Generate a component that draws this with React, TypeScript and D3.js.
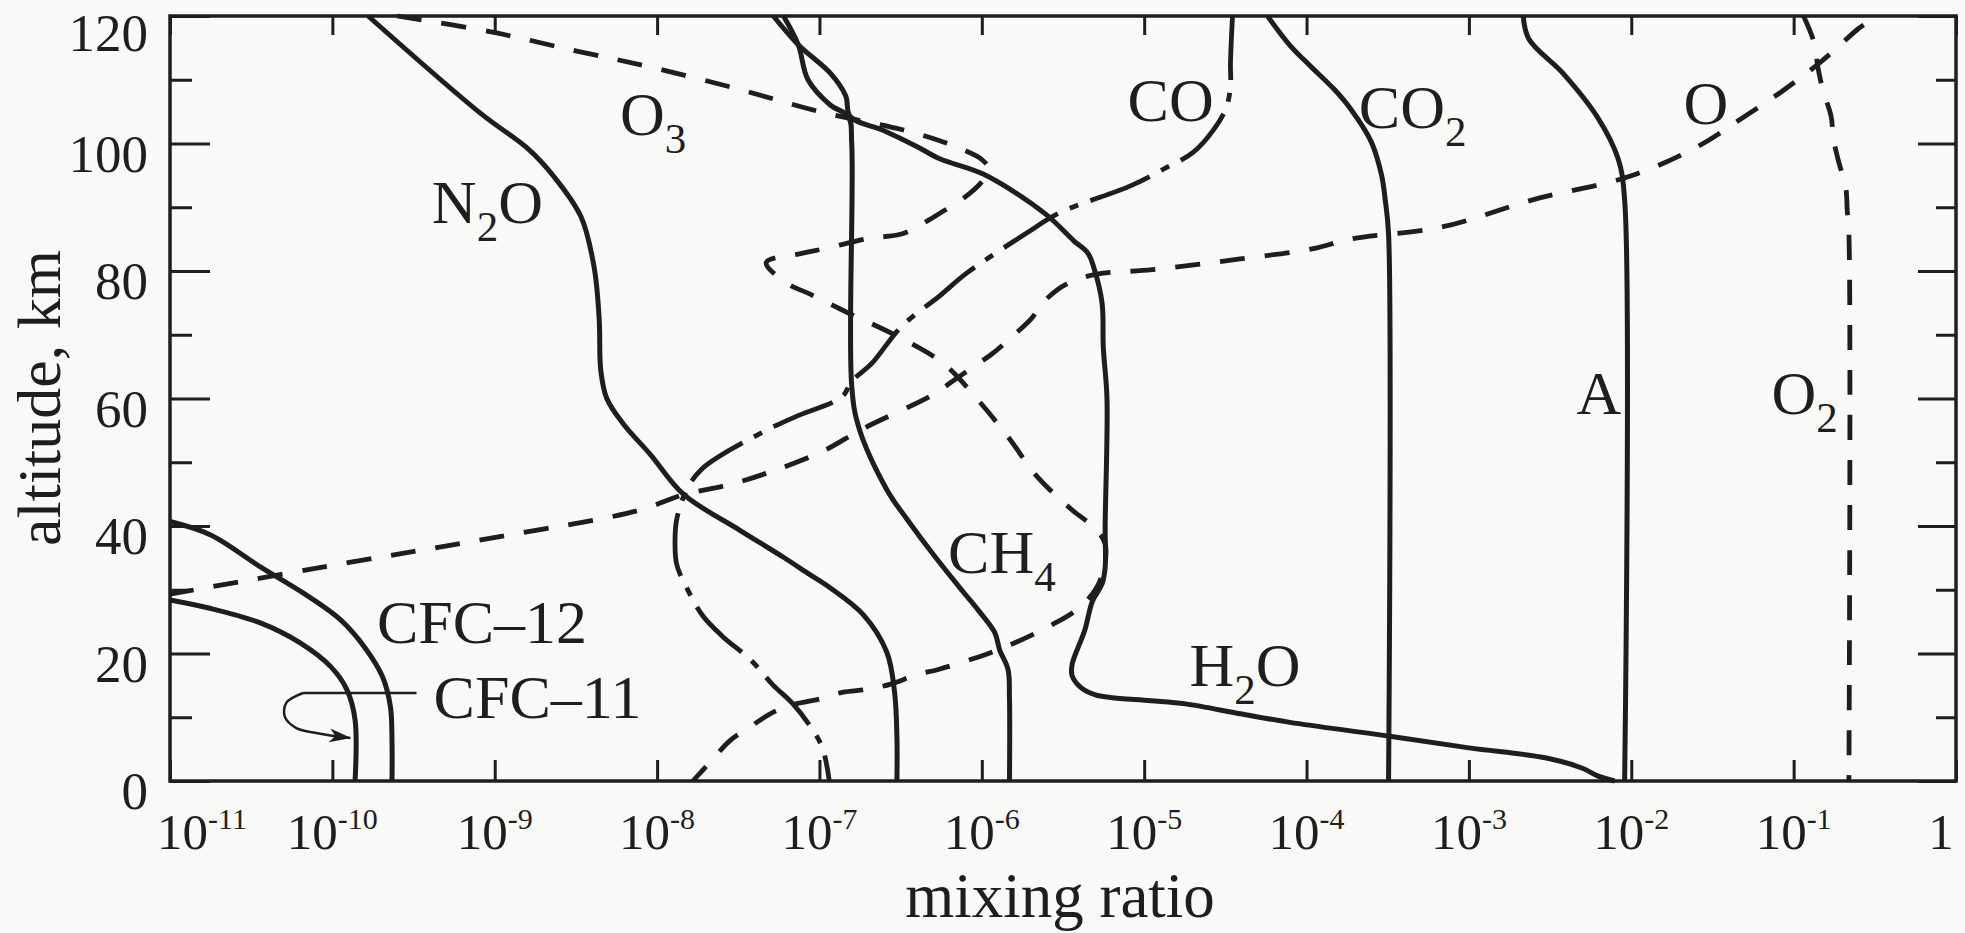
import { useEffect, useRef } from 'react';
import * as d3 from 'd3';

// [altitude km, mixing ratio]
type Pt = [number, number];

const CFC11: Pt[] = [
  [28.4, 1.0e-11], [27.1, 1.76e-11], [24.8, 3.6e-11], [21.7, 6.3e-11], [17.9, 9.8e-11],
  [14.3, 1.23e-10], [9.6, 1.38e-10], [0, 1.38e-10],
];

const CFC12: Pt[] = [
  [40.7, 1.0e-11], [38.6, 1.78e-11], [33.6, 3.6e-11], [29.5, 6.6e-11], [25.3, 1.12e-10],
  [20.6, 1.62e-10], [16.3, 2.04e-10], [11.6, 2.28e-10], [6, 2.33e-10], [0, 2.33e-10],
];

const N2O: Pt[] = [
  [120, 1.66e-10], [104.6, 8.3e-10], [99.2, 1.6e-9], [94.9, 2.3e-9], [88.5, 3.4e-9],
  [80.5, 4.1e-9], [72.4, 4.4e-9], [64.4, 4.5e-9], [60, 4.9e-9], [56, 6.2e-9],
  [51.2, 9.1e-9], [45, 1.45e-8], [39.4, 3.2e-8], [35.1, 6.0e-8], [32.4, 8.7e-8],
  [30.4, 1.15e-7], [26.1, 1.86e-7], [20.2, 2.6e-7], [14, 2.9e-7], [7, 3.0e-7], [0, 3.0e-7],
];

const CH4: Pt[] = [
  [120, 6.0e-8], [115.5, 7.4e-8], [110, 8.5e-8], [106, 1.17e-7], [104.2, 1.51e-7],
  [100, 1.58e-7], [62, 1.58e-7], [55.6, 1.74e-7], [45.7, 2.6e-7], [40.9, 3.5e-7],
  [35.6, 5.0e-7], [29.8, 7.6e-7], [26.8, 9.5e-7], [23.3, 1.2e-6], [20.5, 1.29e-6],
  [17.5, 1.45e-6], [13, 1.48e-6], [0, 1.48e-6],
];

const H2O: Pt[] = [
  [120, 5.2e-8], [115.5, 7.4e-8], [111, 1.17e-7], [107.5, 1.45e-7], [104.2, 1.55e-7],
  [102, 2.5e-7], [99.5, 4.0e-7], [97.6, 5.5e-7], [95.2, 1.02e-6], [89, 2.45e-6],
  [84.7, 3.7e-6], [82.8, 4.5e-6], [80.5, 4.9e-6], [75, 5.5e-6], [68, 5.6e-6],
  [60, 5.9e-6], [40, 5.75e-6], [33.5, 5.75e-6], [30.9, 5.5e-6], [28.2, 4.8e-6],
  [23.6, 4.3e-6], [18.3, 3.6e-6], [16.5, 3.6e-6], [14.6, 4.1e-6], [13.5, 5.0e-6],
  [13.1, 6.2e-6], [12.6, 1.1e-5], [12.1, 1.8e-5], [10.5, 4.0e-5], [9.2, 7.9e-5],
  [7.2, 2.9e-4], [5.2, 1.0e-3], [3.6, 3.0e-3], [2, 5.0e-3], [0.8, 6.2e-3], [0, 7.9e-3],
];

const CO: Pt[] = [
  [120, 3.5e-5], [112.6, 3.4e-5], [109, 3.4e-5], [105.6, 3.2e-5], [102.3, 2.7e-5],
  [98.6, 2.0e-5], [96, 1.32e-5], [93.4, 8.3e-6], [89.1, 3.0e-6], [86, 1.9e-6],
  [79.7, 8.1e-7], [76.1, 5.5e-7], [71.3, 3.2e-7], [65.5, 2.1e-7], [62.7, 1.58e-7],
  [60.3, 1.38e-7], [57.2, 7.2e-8], [54.5, 4.3e-8], [48.8, 1.86e-8], [45, 1.48e-8],
  [41, 1.32e-8], [38, 1.29e-8], [34, 1.32e-8], [29.9, 1.55e-8], [26, 1.9e-8],
  [22.8, 2.5e-8], [18.9, 3.8e-8], [15, 5.2e-8], [12.2, 6.8e-8], [8, 9.1e-8],
  [5, 1.05e-7], [0, 1.15e-7],
];

const O3: Pt[] = [
  [120, 2.5e-10], [117.5, 9.5e-10], [114.5, 3.2e-9], [112, 9.1e-9], [108.5, 3.2e-8],
  [105, 1.0e-7], [102.2, 3.2e-7], [100.5, 5.4e-7], [99.2, 7.4e-7], [97.5, 1.0e-6],
  [96, 1.1e-6], [94, 1.0e-6], [91.5, 7.8e-7], [89.4, 5.8e-7], [87.4, 4.3e-7],
  [85.8, 3.2e-7], [85.1, 2.0e-7], [83.6, 1.12e-7], [82.8, 7.9e-8], [81.3, 4.7e-8],
  [78.1, 6.3e-8], [76.4, 8.7e-8], [73.4, 1.51e-7], [69.8, 3.0e-7], [65.5, 5.8e-7],
  [60, 9.3e-7], [54, 1.45e-6], [47.7, 2.2e-6], [42.5, 3.6e-6], [39.8, 4.9e-6],
  [37.2, 5.75e-6], [33, 5.6e-6], [30, 5.0e-6], [27, 3.9e-6], [24.6, 2.75e-6],
  [21.2, 1.45e-6], [19.9, 1.07e-6], [17.5, 5.4e-7], [16.7, 4.0e-7], [15.2, 2.75e-7],
  [14.4, 2.0e-7], [13.9, 1.38e-7], [12.8, 9.8e-8], [12, 6.9e-8], [10.7, 5.1e-8],
  [8.6, 3.8e-8], [6.3, 2.8e-8], [3.4, 2.2e-8], [0, 1.66e-8],
];

const O_ATOM: Pt[] = [
  [118.6, 0.27], [118, 0.25], [112.8, 0.147], [108.2, 8.5e-2], [103.8, 4.7e-2],
  [99.6, 2.6e-2], [94.9, 9.9e-3], [91.2, 2.5e-3], [86.9, 6.8e-4], [85, 1.86e-4],
  [83.5, 1.1e-4], [81.9, 3.9e-5], [80.2, 1.12e-5], [79.5, 5.1e-6], [78.1, 3.4e-6],
  [75.6, 2.5e-6], [72.4, 2.0e-6], [69.8, 1.55e-6], [67.1, 1.17e-6], [65, 8.9e-7],
  [62.7, 6.6e-7], [60.6, 5.0e-7], [55.1, 1.8e-7], [52, 1.1e-7], [48.8, 5.4e-8],
  [46.5, 2.8e-8], [44.9, 1.45e-8], [42.4, 7.6e-9], [38.1, 9.5e-10], [34, 1.1e-10],
  [29.3, 1.0e-11],
];

const O2: Pt[] = [
  [120, 0.115], [116, 0.133], [112, 0.141], [108.5, 0.151], [104.3, 0.17],
  [100.7, 0.176], [97, 0.19], [93.3, 0.209], [89.4, 0.214], [86, 0.219], [0, 0.219],
];

const AR: Pt[] = [
  [120, 2.16e-3], [116.4, 2.34e-3], [111, 3.8e-3], [104.1, 6.2e-3], [97.6, 8.3e-3],
  [91.2, 9.1e-3], [0, 9.1e-3],
];

const CO2: Pt[] = [
  [120, 5.75e-5], [115.4, 7.9e-5], [112, 1.07e-4], [108.5, 1.48e-4], [105.5, 1.86e-4],
  [100.3, 2.5e-4], [95, 2.9e-4], [91.2, 3.05e-4], [85.8, 3.2e-4], [0, 3.2e-4],
];

const SERIES: { name: string; pts: Pt[]; kind: 'solid' | 'dash' | 'dashdot' }[] = [
  { name: 'CFC-11', pts: CFC11, kind: 'solid' },
  { name: 'CFC-12', pts: CFC12, kind: 'solid' },
  { name: 'N2O', pts: N2O, kind: 'solid' },
  { name: 'CH4', pts: CH4, kind: 'solid' },
  { name: 'H2O', pts: H2O, kind: 'solid' },
  { name: 'CO2', pts: CO2, kind: 'solid' },
  { name: 'A', pts: AR, kind: 'solid' },
  { name: 'CO', pts: CO, kind: 'dashdot' },
  { name: 'O3', pts: O3, kind: 'dash' },
  { name: 'O', pts: O_ATOM, kind: 'dash' },
  { name: 'O2', pts: O2, kind: 'dash' },
];

// curve labels: text pieces (true = subscript), left end of baseline at [altitude, mixing ratio]
const LABELS: { parts: [string, boolean][]; at: Pt }[] = [
  { parts: [['O', false], ['3', true]], at: [101.3, 5.9e-9] },
  { parts: [['N', false], ['2', true], ['O', false]], at: [87.5, 4.1e-10] },
  { parts: [['CO', false]], at: [103.5, 7.9e-6] },
  { parts: [['CO', false], ['2', true]], at: [102.4, 2.1e-4] },
  { parts: [['O', false]], at: [103, 2.1e-2] },
  { parts: [['A', false]], at: [57.6, 4.6e-3] },
  { parts: [['O', false], ['2', true]], at: [57.6, 7.3e-2] },
  { parts: [['CH', false], ['4', true]], at: [32.7, 6.2e-7] },
  { parts: [['H', false], ['2', true], ['O', false]], at: [14.9, 1.9e-5] },
  { parts: [['CFC\u201312', false]], at: [21.7, 1.88e-10] },
  { parts: [['CFC\u201311', false]], at: [9.9, 4.2e-10] },
];

// CFC-11 pointer: leader line from the label, then a looped arrow onto the curve
const LEADER: Pt[] = [[13.8, 3.3e-10], [13.8, 6.6e-11]];
const POINTER: Pt[] = [[13.8, 6.6e-11], [12.25, 5.2e-11], [10.05, 5.1e-11], [8.3, 6.0e-11], [7.5, 8.1e-11], [6.75, 1.29e-10]];

const X_TICKS = [1e-11, 1e-10, 1e-9, 1e-8, 1e-7, 1e-6, 1e-5, 1e-4, 1e-3, 1e-2, 1e-1, 1];
const X_TICK_EXP = ['-11', '-10', '-9', '-8', '-7', '-6', '-5', '-4', '-3', '-2', '-1', ''];
const Y_TICKS = [0, 20, 40, 60, 80, 100, 120];
const Y_MINOR = [10, 30, 50, 70, 90, 110];

const W = 1965;
const H = 933;
const M = { left: 170, right: 1956, top: 16, bottom: 781 };
const INK = '#1e1e1e';
const FONT = '"Liberation Serif", "Times New Roman", serif';

export default function App() {
  const svgRef = useRef<SVGSVGElement>(null);

  useEffect(() => {
    if (!svgRef.current) return;
    const svg = d3.select(svgRef.current);
    svg.selectAll('*').remove();

    const x = d3.scaleLog().domain([1e-11, 1]).range([M.left, M.right]);
    const y = d3.scaleLinear().domain([0, 120]).range([M.bottom, M.top]);

    svg.append('rect').attr('width', W).attr('height', H).attr('fill', '#f9f9f8');

    // arrow marker
    svg.append('defs').append('marker')
      .attr('id', 'arr').attr('markerUnits', 'userSpaceOnUse')
      .attr('markerWidth', 24).attr('markerHeight', 18)
      .attr('refX', 21).attr('refY', 9).attr('orient', 'auto')
      .append('path').attr('d', 'M0,2 L22,9 L0,16 L6,9 z').attr('fill', INK);

    // ── curves ──
    const line = d3.line<Pt>()
      .x((d) => x(d[1]))
      .y((d) => y(d[0]))
      .curve(d3.curveCatmullRom.alpha(0.5));

    const plot = svg.append('g');
    SERIES.forEach((s) => {
      plot.append('path')
        .datum(s.pts)
        .attr('d', line)
        .attr('fill', 'none')
        .attr('stroke', INK)
        .attr('stroke-width', s.kind === 'solid' ? 5 : 4.8)
        .attr('stroke-linejoin', 'round')
        .attr('stroke-dasharray', s.kind === 'dash' ? '25 20' : s.kind === 'dashdot' ? '64 13 9 13' : null);
    });

    // CFC-11 pointer
    plot.append('path')
      .datum(LEADER)
      .attr('d', d3.line<Pt>().x((d) => x(d[1])).y((d) => y(d[0])))
      .attr('fill', 'none').attr('stroke', INK).attr('stroke-width', 2.5);
    plot.append('path')
      .datum(POINTER)
      .attr('d', d3.line<Pt>().x((d) => x(d[1])).y((d) => y(d[0])).curve(d3.curveCatmullRom.alpha(0.5)))
      .attr('fill', 'none').attr('stroke', INK).attr('stroke-width', 2.5)
      .attr('marker-end', 'url(#arr)');

    // ── axes (ticks point into the frame) ──
    const axes = svg.append('g').attr('font-family', FONT);
    const mk = (g: d3.Selection<SVGGElement, unknown, null, undefined>) => {
      g.select('.domain').remove();
      g.selectAll('.tick line').attr('stroke', INK).attr('stroke-width', 3);
    };

    axes.append('g').attr('transform', `translate(0,${M.bottom})`)
      .call(d3.axisBottom(x).tickValues(X_TICKS).tickSize(-21).tickFormat(() => ''))
      .call(mk);
    axes.append('g').attr('transform', `translate(0,${M.top})`)
      .call(d3.axisTop(x).tickValues(X_TICKS).tickSize(-19).tickFormat(() => ''))
      .call(mk);

    const left = axes.append('g').attr('transform', `translate(${M.left},0)`)
      .call(d3.axisLeft(y).tickValues(Y_TICKS).tickSize(-40).tickPadding(22));
    mk(left);
    left.selectAll<SVGTextElement, number>('.tick text')
      .attr('fill', INK).attr('font-size', 53).attr('font-family', FONT)
      .attr('dy', (d) => (d === 120 ? '0.66em' : '0.52em'));
    axes.append('g').attr('transform', `translate(${M.left},0)`)
      .call(d3.axisLeft(y).tickValues(Y_MINOR).tickSize(-22).tickFormat(() => ''))
      .call(mk);
    axes.append('g').attr('transform', `translate(${M.right},0)`)
      .call(d3.axisRight(y).tickValues(Y_TICKS).tickSize(-38).tickFormat(() => ''))
      .call(mk);
    axes.append('g').attr('transform', `translate(${M.right},0)`)
      .call(d3.axisRight(y).tickValues(Y_MINOR).tickSize(-20).tickFormat(() => ''))
      .call(mk);

    // frame
    svg.append('rect')
      .attr('x', M.left).attr('y', M.top)
      .attr('width', M.right - M.left).attr('height', M.bottom - M.top)
      .attr('fill', 'none').attr('stroke', INK).attr('stroke-width', 3.5);

    // x tick labels: 10 with superscript exponent
    const xl = svg.append('g').attr('font-family', FONT).attr('fill', INK).attr('font-size', 51);
    X_TICKS.forEach((v, i) => {
      const dx = i === 0 ? 32 : i === X_TICKS.length - 1 ? -15 : 0;
      const t = xl.append('text')
        .attr('x', x(v) + dx).attr('y', 849).attr('text-anchor', 'middle');
      if (X_TICK_EXP[i] === '') {
        t.text('1');
      } else {
        t.append('tspan').text('10');
        t.append('tspan').attr('font-size', 30).attr('dy', -20).text(X_TICK_EXP[i]);
      }
    });

    // axis titles
    svg.append('text')
      .attr('x', 1060).attr('y', 917).attr('text-anchor', 'middle')
      .attr('font-family', FONT).attr('font-size', 63).attr('fill', INK)
      .text('mixing ratio');
    svg.append('text')
      .attr('transform', 'translate(60,398) rotate(-90)').attr('text-anchor', 'middle')
      .attr('font-family', FONT).attr('font-size', 62).attr('fill', INK)
      .text('altitude, km');

    // curve labels
    const lab = svg.append('g').attr('font-family', FONT).attr('font-size', 62).attr('fill', INK);
    LABELS.forEach((l) => {
      const t = lab.append('text').attr('x', x(l.at[1])).attr('y', y(l.at[0]));
      let down = false;
      l.parts.forEach(([s, sub]) => {
        const sp = t.append('tspan').text(s);
        if (sub && !down) { sp.attr('font-size', 43).attr('dy', 18); down = true; }
        else if (!sub && down) { sp.attr('dy', -18); down = false; }
      });
    });
  }, []);

  return (
    <svg
      ref={svgRef}
      width={W}
      height={H}
      style={{ position: 'absolute', left: 0, top: 0, display: 'block' }}
    />
  );
}
